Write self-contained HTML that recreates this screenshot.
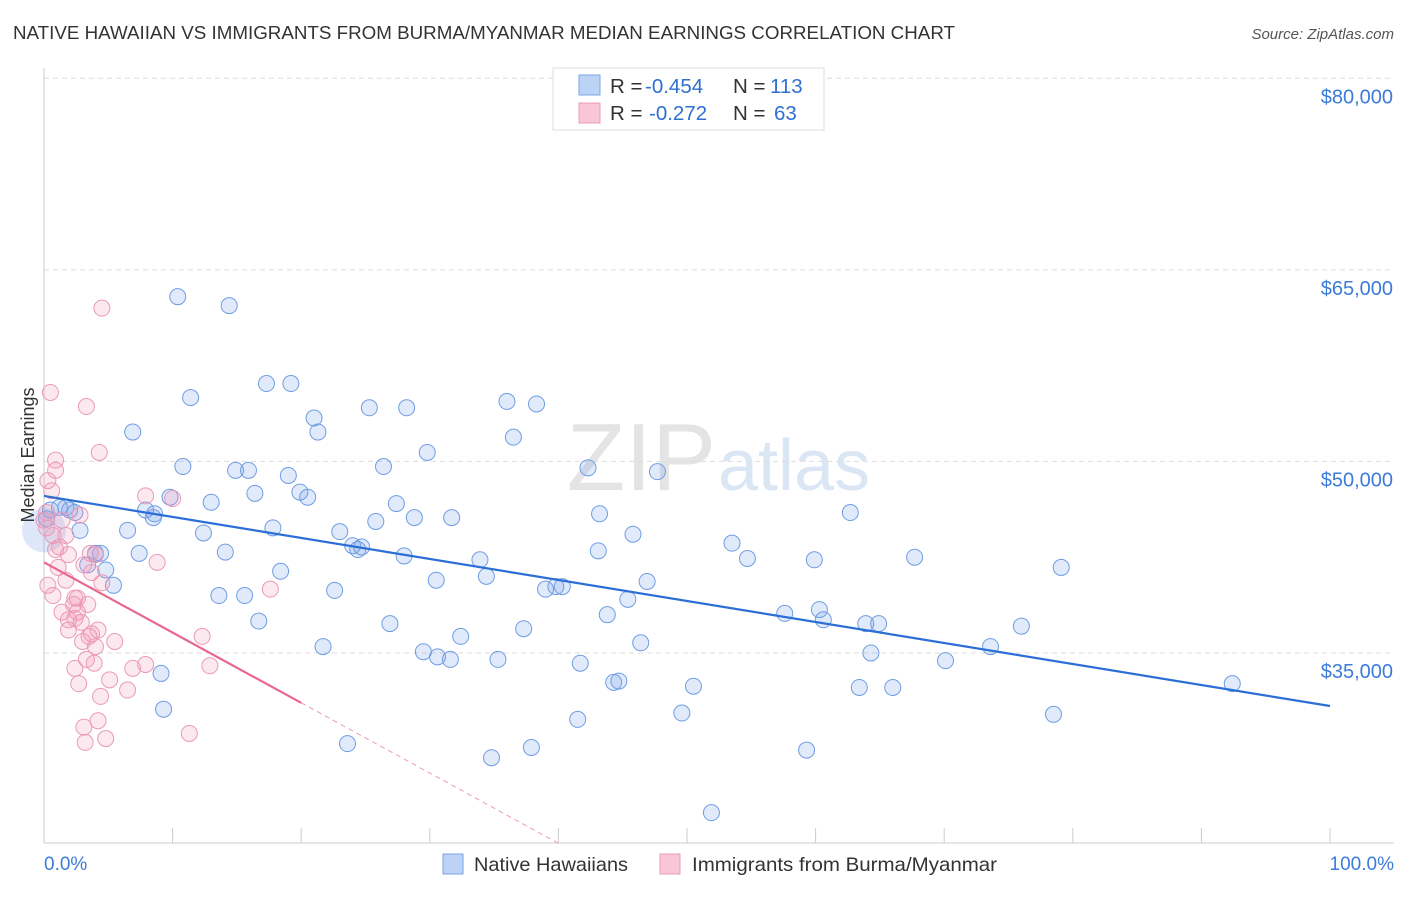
<!DOCTYPE html>
<html><head><meta charset="utf-8"><style>
body{margin:0;background:#fff;font-family:"Liberation Sans",sans-serif;}
svg text{font-family:"Liberation Sans",sans-serif;}
</style></head><body>
<svg id="chart" width="1406" height="892" xmlns="http://www.w3.org/2000/svg">
<text x="13" y="39" font-size="18" fill="#333" textLength="942" lengthAdjust="spacingAndGlyphs">NATIVE HAWAIIAN VS IMMIGRANTS FROM BURMA/MYANMAR MEDIAN EARNINGS CORRELATION CHART</text>
<text x="1394" y="39" font-size="15" fill="#555" font-style="italic" text-anchor="end">Source: ZipAtlas.com</text>
<text x="716" y="490" font-size="96" fill="#e4e4e4" text-anchor="end" font-family="Liberation Serif">ZIP</text>
<text x="718" y="490" font-size="72" fill="#dbe6f5">atlas</text>
<g id="grid"></g>
<g id="axes"></g>
<g id="points"></g>
<g id="lines"></g>
<text x="34" y="455" font-size="18" fill="#333" text-anchor="middle" transform="rotate(-90 34 455)">Median Earnings</text>
<text x="44" y="870" font-size="19" fill="#3d7bd9">0.0%</text>
<text x="1394" y="870" font-size="19" fill="#3d7bd9" text-anchor="end">100.0%</text>
<g>
<rect x="443" y="854" width="20" height="20" fill="#bcd3f5" stroke="#7aa6e6"/>
<text x="474" y="871" font-size="19.5" fill="#333" textLength="154" lengthAdjust="spacingAndGlyphs">Native Hawaiians</text>
<rect x="660" y="854" width="20" height="20" fill="#f9c6d5" stroke="#ec9bb5"/>
<text x="692" y="871" font-size="19.5" fill="#333" textLength="305" lengthAdjust="spacingAndGlyphs">Immigrants from Burma/Myanmar</text>
</g>
<g>
<rect x="553" y="68" width="271" height="62" fill="#fff" stroke="#ddd"/>
<rect x="579" y="75" width="21" height="20" fill="#bcd3f5" stroke="#7aa6e6"/>
<rect x="579" y="103" width="21" height="20" fill="#f9c6d5" stroke="#ec9bb5"/>
<text x="610" y="93" font-size="20.5" fill="#333">R = <tspan fill="#2f6fd0" x="645">-0.454</tspan><tspan x="733">N = </tspan><tspan fill="#2f6fd0" x="770">113</tspan></text>
<text x="610" y="120" font-size="20.5" fill="#333">R = <tspan fill="#2f6fd0" x="649">-0.272</tspan><tspan x="733">N = </tspan><tspan fill="#2f6fd0" x="774">63</tspan></text>
</g>
</svg>
<script>
const yTicks=[35000,50000,65000,80000];
const yTickLabels=["$35,000","$50,000","$65,000","$80,000"];
const xTicks=[0,10,20,30,40,50,60,70,80,90,100];
const blueX=[10.4,14.4,17.3,19.2,11.4,6.9,21.0,21.3,25.3,28.2,36.0,38.3,36.5,29.8,10.8,14.9,15.9,19.0,26.4,42.3,47.7,9.8,13.0,16.4,19.9,20.5,27.4,7.9,8.5,8.6,6.5,12.4,17.8,23.0,25.8,28.8,31.7,43.2,45.8,62.7,1.7,2.8,4.4,7.4,14.1,24.0,24.4,24.7,28.0,33.9,43.1,53.5,54.7,59.9,67.7,79.1,4.8,5.4,3.4,18.4,30.5,34.4,39.0,39.8,40.3,46.9,13.6,15.6,22.6,45.4,43.8,57.6,60.3,60.6,63.9,64.9,16.7,26.9,37.3,32.4,76.0,21.7,29.5,30.6,31.6,46.4,35.3,41.7,64.3,70.1,73.6,9.1,44.3,44.7,50.5,63.4,66.0,92.4,9.3,49.6,41.5,78.5,23.6,37.9,59.3,34.8,51.9,0.2,0.5,1.2,2.0,4.0,2.4];
const blueY=[62900,62200,56100,56100,55000,52300,53400,52300,54200,54200,54700,54500,51900,50700,49600,49300,49300,48900,49600,49500,49200,47200,46800,47500,47600,47200,46700,46200,45600,45900,44600,44400,44800,44500,45300,45600,45600,45900,44300,46000,46400,44600,42800,42800,42900,43400,43100,43300,42600,42300,43000,43600,42400,42300,42500,41700,41500,40300,41900,41400,40700,41000,40000,40200,40200,40600,39500,39500,39900,39200,38000,38100,38400,37600,37300,37300,37500,37300,36900,36300,37100,35500,35100,34700,34500,35800,34500,34200,35000,34400,35500,33400,32700,32800,32400,32300,32300,32600,30600,30300,29800,30200,27900,27600,27400,26800,22500,45500,46200,46400,46200,42800,46000];
const pinkX=[4.5,0.5,3.3,4.3,0.9,0.9,0.3,0.6,7.9,10.0,2.8,1.4,0.2,1.7,0.9,1.9,3.6,4.0,8.8,1.1,3.1,3.7,1.7,4.5,0.7,2.6,2.3,3.4,1.9,2.9,2.4,2.6,1.9,3.7,3.0,3.5,5.5,12.3,4.0,3.3,3.9,2.4,6.9,7.9,12.9,5.1,2.7,6.5,4.4,3.1,4.2,3.2,4.8,11.3,17.6,0,1.2,2.4,0.2,0.7,0.3,1.4,4.2];
const pinkY=[62000,55400,54300,50700,50100,49300,48500,47700,47300,47100,45800,45400,46000,44200,43100,42700,42800,42700,42100,41700,41900,41300,40700,40500,39500,39300,38800,38800,37600,37400,37700,38200,36800,36500,35900,36300,35900,36300,35500,34500,34200,33800,33800,34100,34000,32900,32600,32100,31600,29200,29700,28000,28300,28700,40000,45400,43300,39300,44800,44200,40300,38200,36800];
const blueTrend=[[0,47300],[100,30850]];
const pinkTrendSolid=[[0,42100],[20,31100]];
const pinkTrendDash=[[20,31100],[40,20100]];
const NS="http://www.w3.org/2000/svg";
function xs(p){return 44+p*12.86;}
function ys(v){return 653-(v-35000)/78.3;}
function mk(tag,attrs,parent){const e=document.createElementNS(NS,tag);for(const k in attrs)e.setAttribute(k,attrs[k]);document.getElementById(parent).appendChild(e);return e;}
yTicks.forEach((t,i)=>{
  const l=mk('line',{x1:44,x2:1394,y1:ys(t),y2:ys(t),stroke:'#ddd','stroke-dasharray':'5,4'},'grid');
  
  
  const tx=mk('text',{x:1393,y:ys(t)+25,'font-size':20,fill:'#3d7bd9','text-anchor':'end'},'axes');
  tx.textContent=yTickLabels[i];
  
  
});
const ax=mk('line',{x1:44,x2:44,y1:68,y2:843,stroke:'#ccc'},'axes');


const bx=mk('line',{x1:44,x2:1394,y1:843,y2:843,stroke:'#ccc'},'axes');


xTicks.forEach(t=>{
  const l=mk('line',{x1:xs(t),x2:xs(t),y1:828,y2:843,stroke:'#ccc'},'axes');
  
  
});
const big=mk('circle',{cx:xs(0),cy:ys(44600),r:22,fill:'rgba(120,160,230,0.25)',stroke:'none'},'points');


blueX.forEach((x,i)=>{
  const c=mk('circle',{cx:xs(x),cy:ys(blueY[i]),r:8,fill:'rgba(120,160,230,0.22)',stroke:'#6f9de3','stroke-width':1},'points');
  
  
});
pinkX.forEach((x,i)=>{
  const c=mk('circle',{cx:xs(x),cy:ys(pinkY[i]),r:8,fill:'rgba(240,150,180,0.22)',stroke:'#eb9ab6','stroke-width':1},'points');
  
  
});
const bl=mk('line',{x1:xs(blueTrend[0][0]),y1:ys(blueTrend[0][1]),x2:xs(blueTrend[1][0]),y2:ys(blueTrend[1][1]),stroke:'#2b6fd6','stroke-width':2.2},'lines');


const pl=mk('line',{x1:xs(pinkTrendSolid[0][0]),y1:ys(pinkTrendSolid[0][1]),x2:xs(pinkTrendSolid[1][0]),y2:ys(pinkTrendSolid[1][1]),stroke:'#e8668f','stroke-width':2.2},'lines');


const pd=mk('line',{x1:xs(pinkTrendDash[0][0]),y1:ys(pinkTrendDash[0][1]),x2:xs(pinkTrendDash[1][0]),y2:ys(pinkTrendDash[1][1]),stroke:'#eb9ab6','stroke-width':1,'stroke-dasharray':'5,4'},'lines');


</script>
</body></html>
